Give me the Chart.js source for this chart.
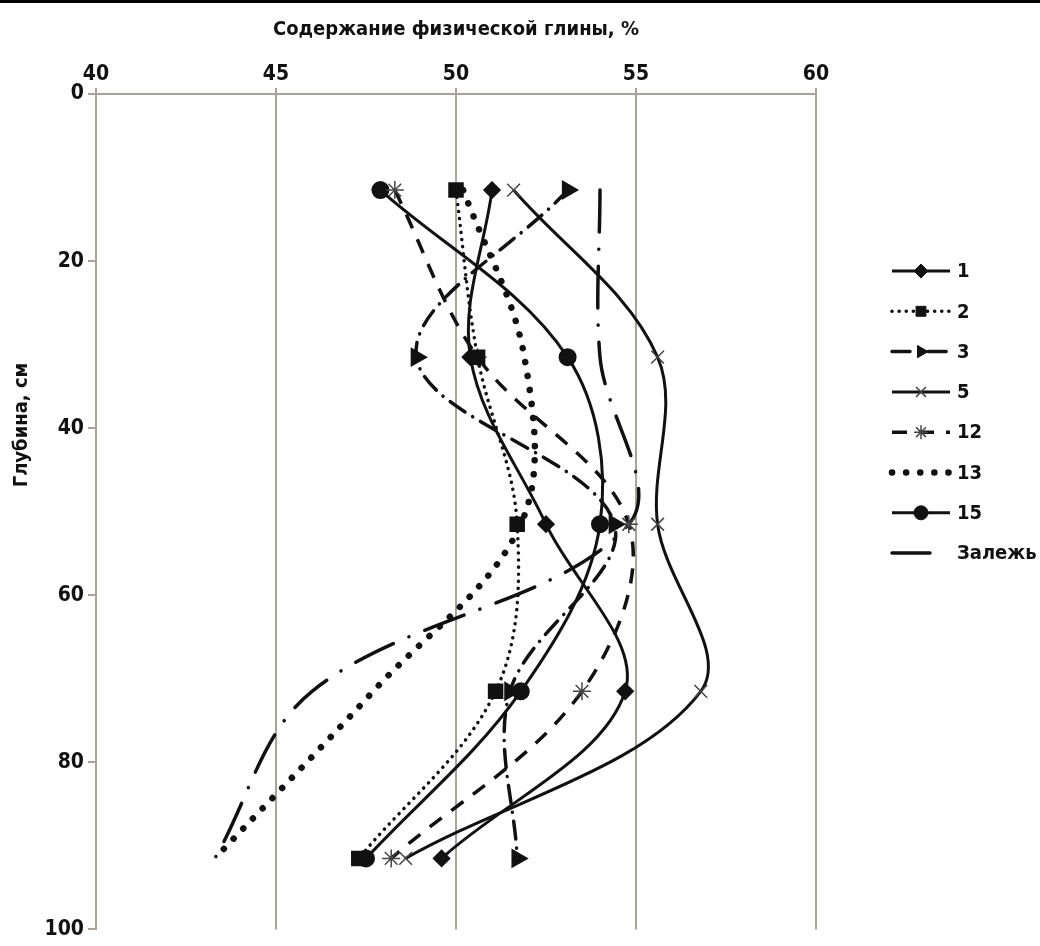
<!DOCTYPE html>
<html>
<head>
<meta charset="utf-8">
<script src="https://cdn.jsdelivr.net/npm/chart.js@4/dist/chart.umd.min.js"></script>
<style>
  html, body { margin: 0; padding: 0; background: #fff; }
  .frame { position: relative; width: 1040px; height: 946px; }
  .topbar { position: absolute; left: 0; top: 0; width: 1040px; height: 3px; background: #000; }
  canvas { position: absolute; left: 0; top: 0; }
</style>
</head>
<body>
<div class="frame">
  <canvas id="chart" width="1040" height="946"></canvas>
  <div class="topbar"></div>
</div>
<script>
// depth of each sampled layer, cm
const depths = [11.5, 31.5, 51.5, 71.5, 91.5]

// physical clay content, % (one array per profile)
const s1 = [51.0, 50.4, 52.5, 54.7, 49.6]
const s2 = [50.0, 50.6, 51.7, 51.1, 47.3]
const s3 = [53.1, 48.9, 54.4, 51.5, 51.7]
const s5 = [51.6, 55.6, 55.6, 56.8, 48.6]
const s12 = [48.3, 50.6, 54.8, 53.5, 48.2]
const s13 = [50.2, 51.9, 51.8, 47.7, 43.3]
const s15 = [47.9, 53.1, 54.0, 51.8, 47.5]
const zalezh = [54.0, 54.0, 54.8, 46.0, 43.3]

const seriesLabels = ["1", "2", "3", "5", "12", "13", "15", "Залежь"]
const xTicks = [40, 45, 50, 55, 60]
const yTicks = [0, 20, 40, 60, 80, 100]

const FONT = "'Liberation Sans Narrow', 'DejaVu Sans Condensed', 'Liberation Sans', sans-serif"
const GRID = "#aaa39c"
const INK = "#111"

const pts = vals => vals.map((v, i) => ({ x: v, y: depths[i] }))

const base = {
  showLine: true,
  borderColor: INK,
  backgroundColor: INK,
  pointBorderColor: INK,
  pointBackgroundColor: INK,
  borderWidth: 3,
  tension: 0.35,
  borderCapStyle: "butt",
  pointHoverRadius: 0
}

const datasets = [
  { ...base, label: seriesLabels[0], data: pts(s1), pointStyle: "rectRot", pointRadius: 7 },
  { ...base, label: seriesLabels[1], data: pts(s2), borderWidth: 3.5, borderDash: [0.1, 7], borderCapStyle: "round", pointStyle: "rect", pointRadius: 8.5 },
  { ...base, label: seriesLabels[2], data: pts(s3), borderWidth: 3.5, borderDash: [18, 9, 0.1, 9], borderCapStyle: "round", pointStyle: "triangle", pointRotation: 90, pointRadius: 8 },
  { ...base, label: seriesLabels[3], data: pts(s5), pointStyle: "crossRot", pointRadius: 9, pointBorderWidth: 1.5, pointBorderColor: "#444" },
  { ...base, label: seriesLabels[4], data: pts(s12), borderWidth: 3.5, borderDash: [15, 12], pointStyle: "star", pointRadius: 9, pointBorderWidth: 1.5, pointBorderColor: "#444" },
  { ...base, label: seriesLabels[5], data: pts(s13), borderWidth: 6.5, borderDash: [0.1, 14], borderCapStyle: "round", pointRadius: 0 },
  { ...base, label: seriesLabels[6], data: pts(s15), pointStyle: "circle", pointRadius: 7.5 },
  { ...base, label: seriesLabels[7], data: pts(zalezh), borderWidth: 3.5, borderDash: [42, 17, 0.1, 17], borderCapStyle: "round", pointRadius: 0 }
]

// titles and the side legend
const decor = {
  id: "decor",
  afterDraw(chart) {
    const ctx = chart.ctx
    const area = chart.chartArea
    ctx.save()
    ctx.fillStyle = INK
    ctx.font = `bold 20px ${FONT}`
    ctx.textAlign = "center"
    ctx.textBaseline = "middle"
    ctx.fillText("Содержание физической глины, %", (area.left + area.right) / 2, 30)

    ctx.save()
    ctx.translate(22, 425)
    ctx.rotate(-Math.PI / 2)
    ctx.fillText("Глубина, см", 0, 0)
    ctx.restore()

    chart.data.datasets.forEach((ds, i) => {
      const y = 271 + i * 40.3
      ctx.save()
      ctx.strokeStyle = INK
      ctx.lineWidth = ds.borderWidth
      ctx.lineCap = ds.borderCapStyle || "butt"
      const last = i === chart.data.datasets.length - 1
      if (!last) ctx.setLineDash(ds.borderDash || [])
      ctx.beginPath()
      ctx.moveTo(892, y)
      ctx.lineTo(last ? 930 : 950, y)
      ctx.stroke()
      ctx.restore()
      if (ds.pointRadius > 0 && ds.pointStyle) {
        ctx.save()
        ctx.fillStyle = INK
        ctx.strokeStyle = ds.pointBorderColor || INK
        ctx.lineWidth = ds.pointBorderWidth || 1
        Chart.helpers.drawPoint(ctx, {
          pointStyle: ds.pointStyle,
          radius: Math.min(ds.pointRadius, 7),
          rotation: ds.pointRotation || 0,
          borderWidth: ds.pointBorderWidth || 1
        }, 921, y)
        ctx.restore()
      }
      ctx.fillStyle = INK
      ctx.font = `bold 20px ${FONT}`
      ctx.textAlign = "left"
      ctx.fillText(ds.label, last ? 957 : 957, y + 1)
    })
    ctx.restore()
  }
}

new Chart(document.getElementById("chart"), {
  type: "scatter",
  data: { datasets },
  plugins: [decor],
  options: {
    responsive: false,
    animation: false,
    events: [],
    layout: { padding: { top: 50, left: 40, right: 224, bottom: 14 } },
    plugins: { legend: { display: false }, tooltip: { enabled: false } },
    scales: {
      x: {
        type: "linear",
        position: "top",
        min: 40,
        max: 60,
        afterBuildTicks: s => { s.ticks = xTicks.map(v => ({ value: v })) },
        afterFit: s => { s.height = 44 },
        ticks: { color: INK, font: { family: FONT, size: 21, weight: "bold" }, padding: 1 },
        grid: { color: GRID, lineWidth: 2, tickLength: 6 },
        border: { color: GRID, width: 2 }
      },
      y: {
        type: "linear",
        reverse: true,
        min: 0,
        max: 100,
        afterBuildTicks: s => { s.ticks = yTicks.map(v => ({ value: v })) },
        afterFit: s => { s.width = 56 },
        ticks: { color: INK, font: { family: FONT, size: 21, weight: "bold" }, padding: 4 },
        grid: { drawOnChartArea: false, color: GRID, lineWidth: 2, tickLength: 8 },
        border: { color: GRID, width: 2 }
      }
    }
  }
})
</script>
</body>
</html>
